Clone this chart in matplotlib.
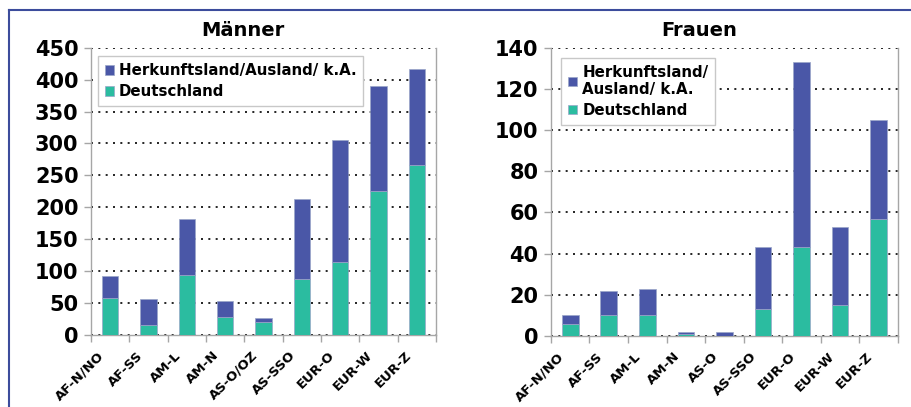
import matplotlib.pyplot as plt
import matplotlib.lines as mlines
from matplotlib.patches import Patch
import numpy as np

# Herkunft der Personen, getrennt nach Geschlecht
kat_m = ["AF-N/NO", "AF-SS", "AM-L", "AM-N", "AS-O/OZ", "AS-SSO", "EUR-O", "EUR-W", "EUR-Z"]
kat_f = ["AF-N/NO", "AF-SS", "AM-L", "AM-N", "AS-O", "AS-SSO", "EUR-O", "EUR-W", "EUR-Z"]

deutsch_m = [58, 16, 94, 28, 21, 87, 115, 225, 266]
ausland_m = [34, 41, 87, 25, 6, 126, 190, 165, 151]

deutsch_f = [6, 10, 10, 1, 0, 13, 43, 15, 57]
ausland_f = [4, 12, 13, 1, 2, 30, 90, 38, 48]

BLAU = "#4a57a7"
GRUEN = "#2bbca0"
GRAU = "#a6a6a6"

plt.rcParams['font.family'] = ['DejaVu Sans']
plt.rcParams['font.weight'] = 'bold'

fig = plt.figure(figsize=(9.11, 4.07), dpi=100)


def zeichne(pos, kat, de, aus, ymax, ystep, titel, leg_text, leg_pos, titel_x):
    ax = fig.add_axes(pos)
    x = np.arange(len(kat))
    ax.bar(x, de, width=0.43, color=GRUEN, edgecolor="#9aa6c8", linewidth=0.5, zorder=3)
    ax.bar(x, aus, bottom=de, width=0.43, color=BLAU, edgecolor="#9aa6c8", linewidth=0.5, zorder=3)

    ax.set_xlim(-0.5, len(kat) - 0.5)
    ax.set_ylim(0, ymax)
    ax.set_yticks(np.arange(0, ymax + 1, ystep))
    ax.yaxis.grid(True, linestyle=(0, (1.2, 3.2)), color="black", linewidth=1.2, zorder=1)
    ax.set_axisbelow(True)

    for s in ["left", "bottom", "right"]:
        ax.spines[s].set_color(GRAU)
        ax.spines[s].set_linewidth(1.0)
    ax.spines["top"].set_visible(False)

    ax.tick_params(axis="y", labelsize=15, colors=GRAU, labelcolor="black",
                   length=5, width=1.0, pad=4)
    # Teilstriche zwischen den Kategorien
    ax.set_xticks(np.arange(-0.5, len(kat)), minor=False)
    ax.set_xticklabels([])
    ax.tick_params(axis="x", colors=GRAU, length=5, width=1.0)
    for i, k in enumerate(kat):
        ax.annotate(k, xy=(i, 0), xycoords=("data", "axes fraction"),
                    xytext=(-9, -10), textcoords="offset points",
                    rotation=45, ha="right", va="top", rotation_mode="anchor",
                    fontsize=9.5, fontweight="bold")

    fig.text(titel_x, 0.924, titel, ha="center", va="center", fontsize=14, fontweight="bold")

    handles = [Patch(facecolor=BLAU, edgecolor="#9aa6c8", linewidth=0.5),
               Patch(facecolor=GRUEN, edgecolor="#9aa6c8", linewidth=0.5)]
    leg = ax.legend(handles, [leg_text, "Deutschland"], loc="upper left",
                    bbox_to_anchor=leg_pos, fontsize=10.8, frameon=True,
                    fancybox=False, edgecolor="#c8c8c8", framealpha=1,
                    handlelength=0.6, handleheight=0.6, handletextpad=0.35,
                    labelspacing=0.4, borderpad=0.45, borderaxespad=0)
    leg.get_frame().set_linewidth(1.0)
    return ax


zeichne([0.0999, 0.1769, 0.3787, 0.7059], kat_m, deutsch_m, ausland_m, 450, 50,
        "Männer", "Herkunftsland/Ausland/ k.A.", (0.02, 0.97), 0.267)
zeichne([0.6048, 0.1744, 0.3806, 0.7084], kat_f, deutsch_f, ausland_f, 140, 20,
        "Frauen", "Herkunftsland/\nAusland/ k.A.", (0.03, 0.965), 0.768)

# blauer Rahmen oben und links
fig.add_artist(mlines.Line2D([8.5 / 911, 1], [1 - 9.5 / 407] * 2, color="#3c4c9c",
                             linewidth=1.5, transform=fig.transFigure))
fig.add_artist(mlines.Line2D([8.5 / 911] * 2, [0, 1 - 9.5 / 407], color="#3c4c9c",
                             linewidth=1.5, transform=fig.transFigure))

fig.savefig("out.png", dpi=100)
